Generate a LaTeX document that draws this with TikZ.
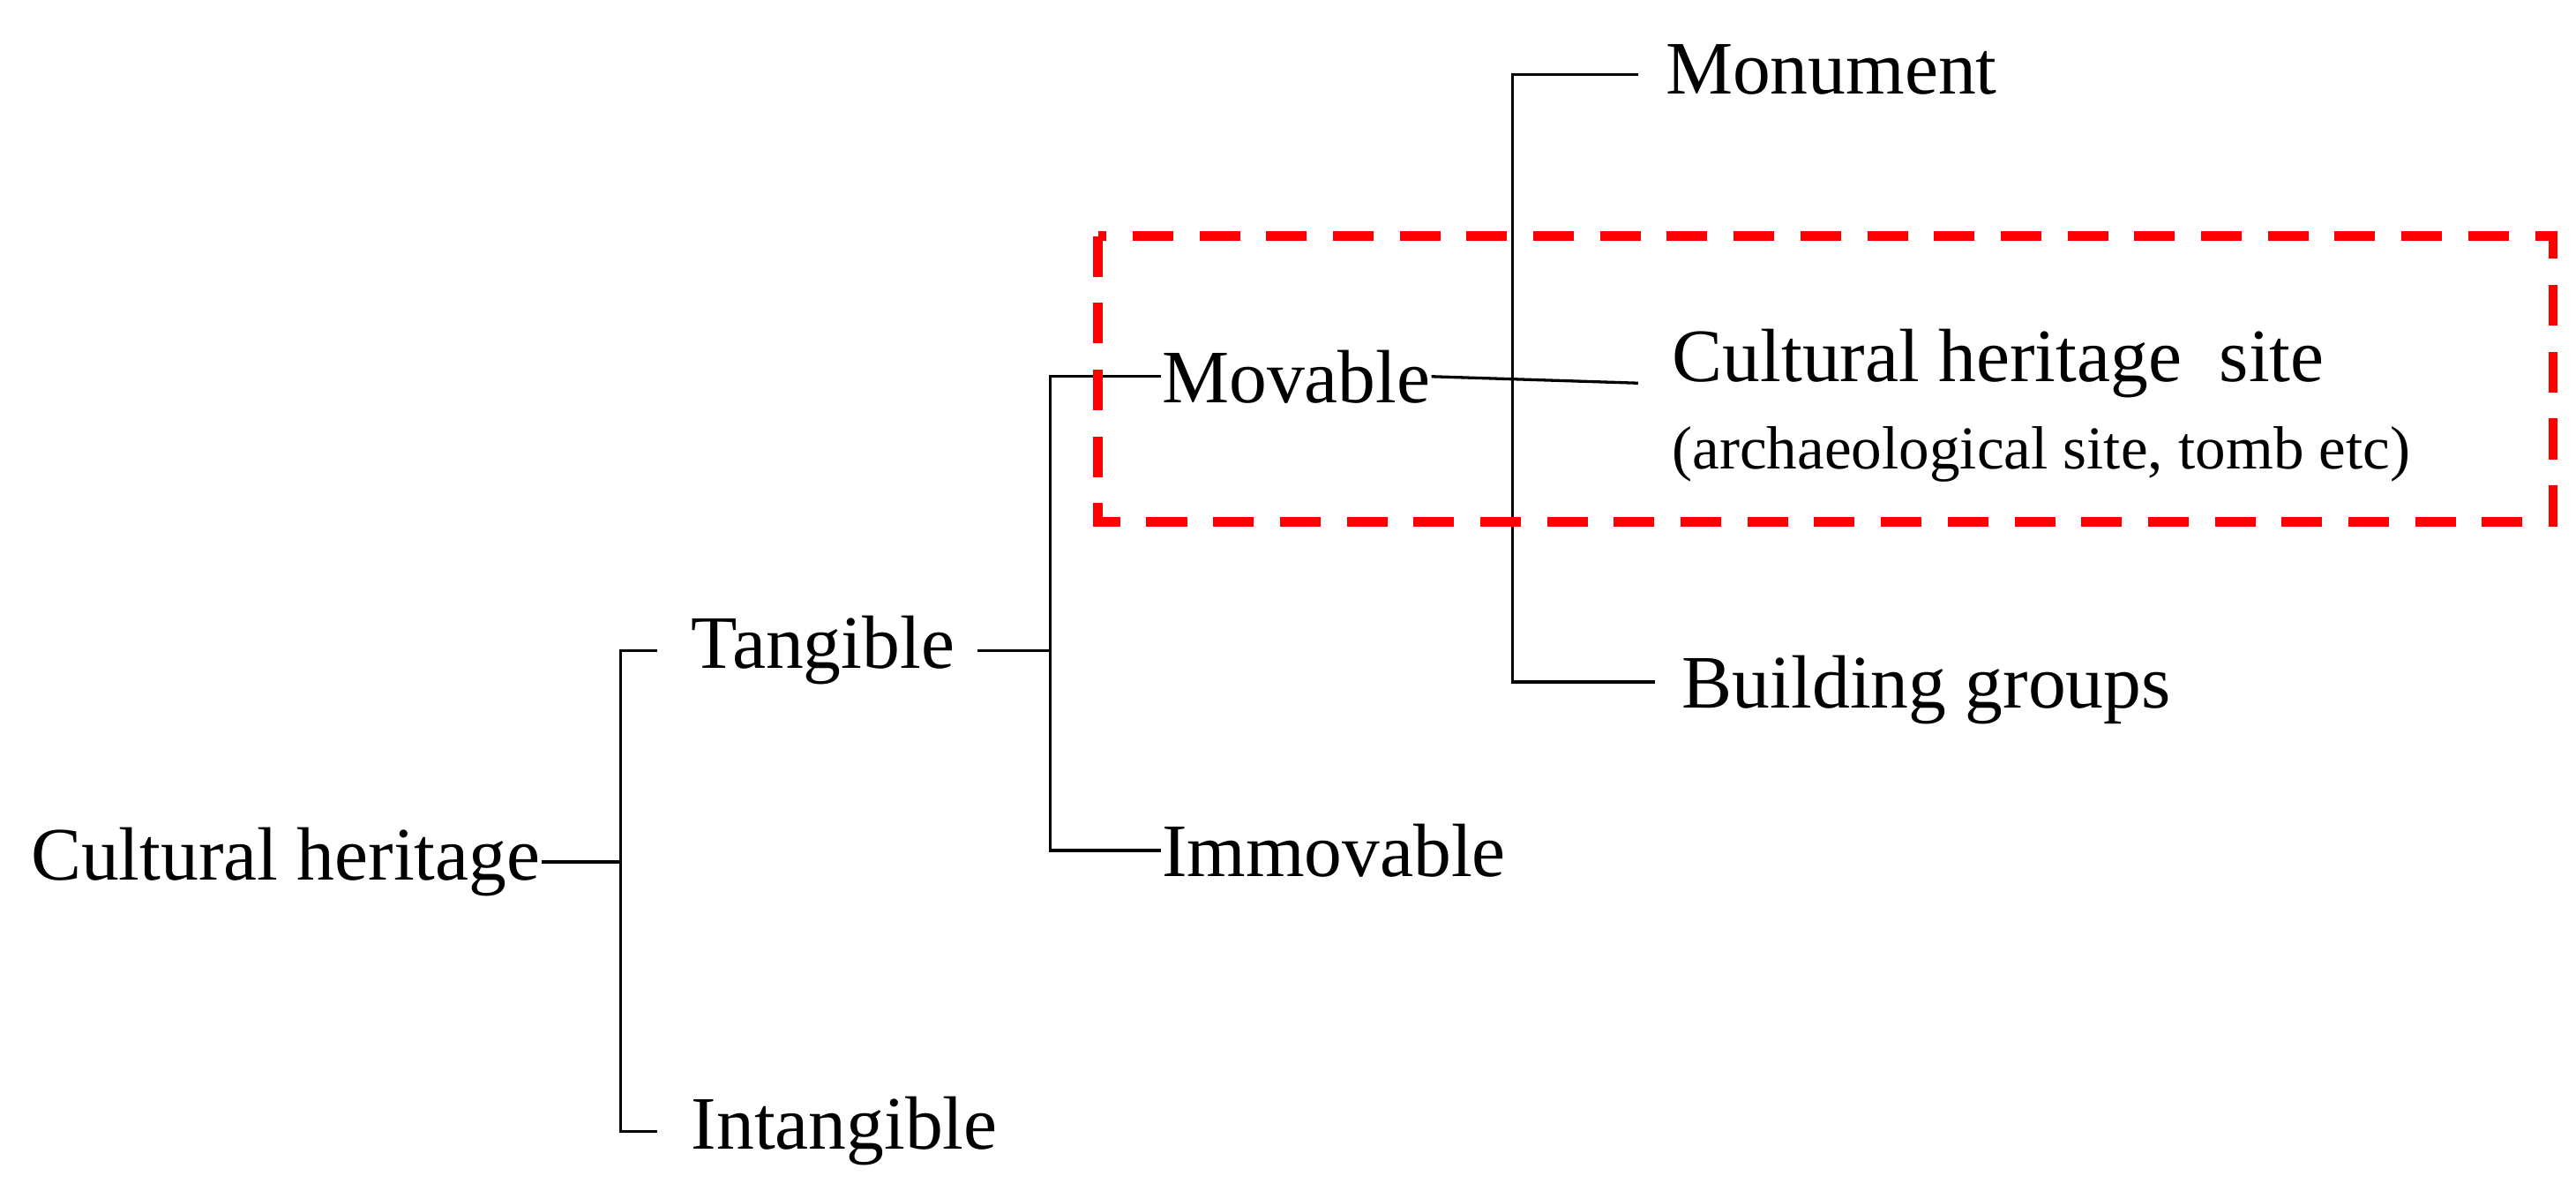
\documentclass[tikz,border=0pt]{standalone}
\usepackage{fontspec}
\setmainfont{Liberation Serif}
\begin{document}
\begin{tikzpicture}[x=0.01cm,y=-0.01cm,
  lbl/.style={anchor=west,inner sep=0pt,font=\fontsize{13}{15}\selectfont},
  ln/.style={line width=0.5pt,black}]
\useasboundingbox (0,0) rectangle (1560,721);
\node[lbl] (ch) at (18,522) {Cultural heritage};
\node[lbl] (tan) at (418,394) {Tangible};
\node[lbl] (int) at (418,685) {Intangible};
\node[lbl] (mov) at (703,228) {Movable};
\node[lbl] (imm) at (703,515) {Immovable};
\node[lbl] (mon) at (1008,42) {Monument};
\node[lbl] (chs) at (1012,220) {Cultural heritage\ \ site};
\node[lbl,font=\fontsize{10.5}{12}\selectfont] (sub) at (1012,275) {(archaeological site, tomb etc)};
\node[lbl] (bg) at (1018,418) {Building groups};
\coordinate (j1) at (376,522);
\coordinate (j2) at (636,394);
\coordinate (j3) at (916,232);
\draw[ln] (ch.east) -- (j1);
\draw[ln] (tan.west -| 398,0) -- (376,394) -- (376,685) -- (int.west -| 398,0);
\draw[ln] ([xshift=14pt*0+14*0.01cm]tan.east) -- (j2);
\draw[ln] (592,394) -- (j2);
\draw[ln] (mov.west) -- (636,228) -- (636,515) -- (imm.west);
\draw[ln] (mov.east) -- (992,232);
\draw[ln] (992,45) -- (916,45) -- (916,413) -- (1002,413);
\draw[red,line width=1.6pt,dash pattern=on 7pt off 4.5pt] (665,143) rectangle (1546,316);
\end{tikzpicture}
\end{document}
